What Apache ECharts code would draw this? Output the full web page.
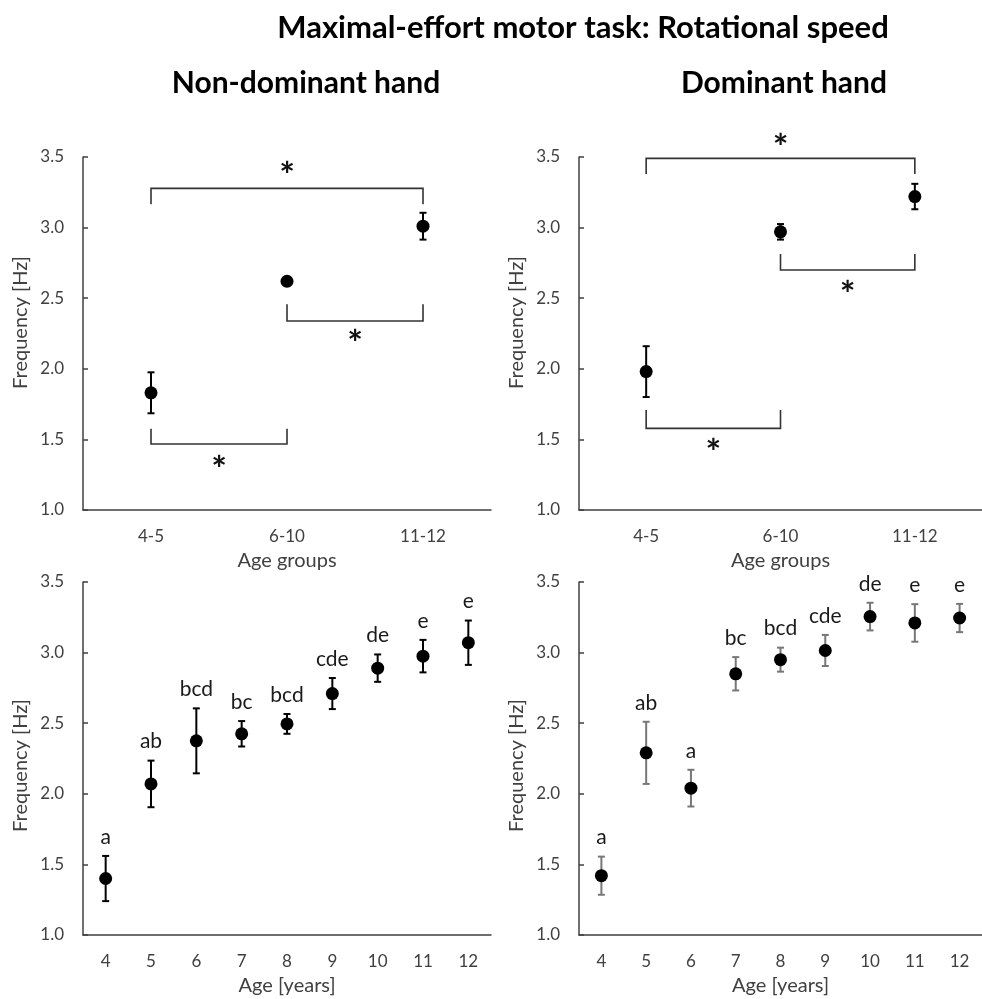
<!DOCTYPE html>
<html>
<head>
<meta charset="utf-8">
<script src="https://cdn.jsdelivr.net/npm/echarts@6/dist/echarts.min.js"></script>
<style>
  html, body { margin: 0; padding: 0; background: #fff; }
  #chart { width: 982px; height: 999px; }
</style>
</head>
<body>
<div id="chart"></div>
<script>
// ---------- data ----------
const groupCategories = ['4-5', '6-10', '11-12'];
const ageCategories = ['4', '5', '6', '7', '8', '9', '10', '11', '12'];

const nonDomGroupMean = [1.83, 2.62, 3.01];
const nonDomGroupErr  = [0.145, 0.03, 0.095];
const domGroupMean    = [1.98, 2.97, 3.22];
const domGroupErr     = [0.18, 0.055, 0.09];

const nonDomAgeMean = [1.40, 2.07, 2.375, 2.425, 2.495, 2.71, 2.89, 2.975, 3.07];
const nonDomAgeErr  = [0.16, 0.165, 0.23, 0.09, 0.07, 0.11, 0.097, 0.115, 0.157];
const nonDomAgeLetters = ['a', 'ab', 'bcd', 'bc', 'bcd', 'cde', 'de', 'e', 'e'];

const domAgeMean = [1.42, 2.29, 2.04, 2.85, 2.95, 3.015, 3.255, 3.21, 3.245];
const domAgeErr  = [0.135, 0.22, 0.13, 0.118, 0.085, 0.11, 0.098, 0.133, 0.10];
const domAgeLetters = ['a', 'ab', 'a', 'bc', 'bcd', 'cde', 'de', 'e', 'e'];

// brackets: [fromIndex, toIndex, barValue, legEndValue, starValue]
const nonDomBrackets = [[0, 2, 3.278, 3.165, 3.42], [1, 2, 2.338, 2.457, 2.23], [0, 1, 1.467, 1.576, 1.34]];
const domBrackets    = [[0, 2, 3.49, 3.38, 3.62], [1, 2, 2.70, 2.813, 2.58], [0, 1, 1.578, 1.708, 1.46]];

const yMin = 1.0, yMax = 3.5, yStep = 0.5;

const mainTitle = 'Maximal-effort motor task: Rotational speed';
const panelTitles = ['Non-dominant hand', 'Dominant hand'];
const yName = 'Frequency [Hz]';
const xNameGroups = 'Age groups';
const xNameAge = 'Age [years]';

// ---------- helpers ----------
const FONT = 'Lato';
const AXIS_COLOR = '#404040';

function errRender(color, letters) {
  return function (params, api) {
    const x = api.value(0), m = api.value(1), e = api.value(2);
    const top = api.coord([x, m + e]);
    const bot = api.coord([x, m - e]);
    const cw = 3.5;
    const st = { stroke: color, lineWidth: 2 };
    const children = [
      { type: 'line', shape: { x1: top[0], y1: top[1], x2: bot[0], y2: bot[1] }, style: st },
      { type: 'line', shape: { x1: top[0] - cw, y1: top[1], x2: top[0] + cw, y2: top[1] }, style: st },
      { type: 'line', shape: { x1: bot[0] - cw, y1: bot[1], x2: bot[0] + cw, y2: bot[1] }, style: st }
    ];
    if (letters) {
      children.push({
        type: 'text', x: top[0], y: top[1] - 19,
        style: { text: letters[params.dataIndex], fontFamily: FONT, fontSize: 21, fill: '#1a1a1a', align: 'center', verticalAlign: 'middle' }
      });
    }
    return { type: 'group', children: children };
  };
}

function bracketRender(params, api) {
  const f = api.value(0), t = api.value(1);
  const a = api.coord([f, api.value(2)]);
  const b = api.coord([t, api.value(2)]);
  const leg = api.coord([f, api.value(3)]);
  const star = api.coord([f, api.value(4)]);
  const midX = (a[0] + b[0]) / 2;
  return {
    type: 'group',
    children: [
      { type: 'polyline', shape: { points: [[a[0], leg[1]], [a[0], a[1]], [b[0], b[1]], [b[0], leg[1]]] },
        style: { stroke: '#333', lineWidth: 1.6, fill: null } },
      { type: 'text', x: midX, y: star[1] + 8,
        style: { text: '*', fontFamily: FONT, fontWeight: 'bold', fontSize: 37, fill: '#111', align: 'center', verticalAlign: 'middle' } }
    ]
  };
}

function makeX(gridIndex, cats, name) {
  return {
    type: 'category', gridIndex: gridIndex, data: cats, boundaryGap: true,
    axisLine: { lineStyle: { color: AXIS_COLOR, width: 1.5 } },
    axisTick: { inside: true, length: 5, lineStyle: { color: AXIS_COLOR, width: 1.5 } },
    axisLabel: { margin: 18, fontSize: 17, color: AXIS_COLOR, fontFamily: FONT },
    splitLine: { show: false },
    name: name, nameLocation: 'middle', nameGap: 41,
    nameTextStyle: { fontSize: 20, color: AXIS_COLOR, fontFamily: FONT }
  };
}
function makeY(gridIndex, isTop) {
  return {
    type: 'value', gridIndex: gridIndex, min: yMin, max: yMax, interval: yStep,
    axisLine: { show: true, lineStyle: { color: AXIS_COLOR, width: 1.5 } },
    axisTick: { show: true, inside: true, length: 5, lineStyle: { color: AXIS_COLOR, width: 1.5 } },
    axisLabel: { margin: 19, fontSize: 17, color: AXIS_COLOR, fontFamily: FONT, formatter: v => v.toFixed(1) },
    splitLine: { show: false },
    name: yName, nameLocation: 'middle', nameGap: 52,
    nameTextStyle: { fontSize: 20, color: AXIS_COLOR, fontFamily: FONT, padding: isTop ? [0, 0, 0, 22] : [0, 14, 0, 0] }
  };
}

function toErr(means, errs) { return means.map((m, i) => [i, m, errs[i]]); }
function toPts(means) { return means.map((m, i) => [i, m]); }

function panelSeries(idx, means, errs, letters, brackets, errColor) {
  const s = [
    { type: 'custom', xAxisIndex: idx, yAxisIndex: idx, renderItem: errRender(errColor, letters),
      data: toErr(means, errs), encode: { x: 0, y: 1 }, z: 2, silent: true },
    { type: 'scatter', xAxisIndex: idx, yAxisIndex: idx, data: toPts(means), symbol: 'circle', symbolSize: 13,
      itemStyle: { color: '#000', opacity: 1 }, z: 3, silent: true }
  ];
  if (brackets) {
    s.push({ type: 'custom', xAxisIndex: idx, yAxisIndex: idx, renderItem: bracketRender,
      data: brackets, encode: { x: 0, y: 2 }, z: 1, silent: true });
  }
  return s;
}

const chart = echarts.init(document.getElementById('chart'), null, { renderer: 'canvas' });
chart.setOption({
  backgroundColor: '#fff',
  animation: false,
  title: [
    { text: mainTitle, left: 583, top: 12, padding: 0, textAlign: 'center',
      textStyle: { fontFamily: FONT, fontWeight: 'bold', fontSize: 31, color: '#000' } },
    { text: panelTitles[0], left: 306, top: 68, padding: 0, textAlign: 'center',
      textStyle: { fontFamily: FONT, fontWeight: 'bold', fontSize: 30, color: '#000' } },
    { text: panelTitles[1], left: 784, top: 68, padding: 0, textAlign: 'center',
      textStyle: { fontFamily: FONT, fontWeight: 'bold', fontSize: 30, color: '#000' } }
  ],
  grid: [
    { left: 83, top: 157, width: 408, height: 353 },
    { left: 579, top: 157, width: 408, height: 353 },
    { left: 83, top: 582, width: 408, height: 353 },
    { left: 579, top: 582, width: 408, height: 353 }
  ],
  xAxis: [
    makeX(0, groupCategories, xNameGroups),
    makeX(1, groupCategories, xNameGroups),
    makeX(2, ageCategories, xNameAge),
    makeX(3, ageCategories, xNameAge)
  ],
  yAxis: [makeY(0, true), makeY(1, true), makeY(2, false), makeY(3, false)],
  series: [].concat(
    panelSeries(0, nonDomGroupMean, nonDomGroupErr, null, nonDomBrackets, '#000'),
    panelSeries(1, domGroupMean, domGroupErr, null, domBrackets, '#000'),
    panelSeries(2, nonDomAgeMean, nonDomAgeErr, nonDomAgeLetters, null, '#000'),
    panelSeries(3, domAgeMean, domAgeErr, domAgeLetters, null, '#777')
  )
});
</script>
</body>
</html>
